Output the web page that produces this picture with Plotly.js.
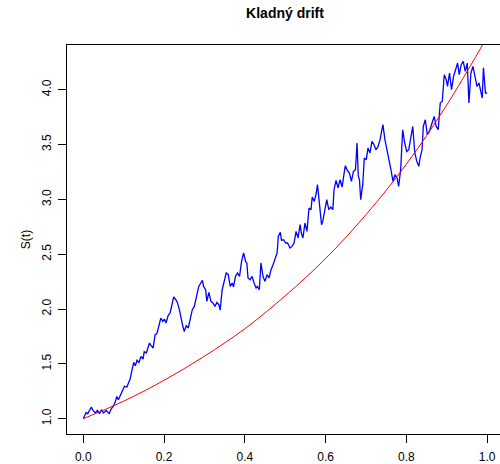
<!DOCTYPE html>
<html>
<head>
<meta charset="utf-8">
<script src="https://cdn.plot.ly/plotly-3.0.1.min.js"></script>
<style>
  html, body { margin: 0; padding: 0; background: #ffffff; }
  #chart { width: 500px; height: 464px; }
</style>
</head>
<body>
<div id="chart"></div>
<script>
// Simulated price path S(t) of a geometric Brownian motion with positive drift
const pathT = [
  0.000, 0.007, 0.011, 0.020, 0.024, 0.030, 0.035, 0.040, 0.045, 0.050,
  0.057, 0.064, 0.069, 0.074, 0.079, 0.083, 0.087, 0.093, 0.098, 0.102,
  0.108, 0.113, 0.116, 0.121, 0.125, 0.129, 0.133, 0.138, 0.143, 0.148,
  0.151, 0.156, 0.161, 0.164, 0.168, 0.173, 0.178, 0.182, 0.187, 0.192,
  0.197, 0.201, 0.205, 0.210, 0.215, 0.219, 0.224, 0.229, 0.233, 0.238,
  0.243, 0.247, 0.250, 0.255, 0.260, 0.265, 0.270, 0.275, 0.281, 0.286,
  0.291, 0.295, 0.298, 0.303, 0.306, 0.311, 0.316, 0.321, 0.326, 0.331,
  0.336, 0.339, 0.344, 0.349, 0.354, 0.359, 0.364, 0.369, 0.372, 0.377,
  0.382, 0.387, 0.392, 0.397, 0.402, 0.405, 0.408, 0.413, 0.418, 0.423,
  0.428, 0.431, 0.436, 0.440, 0.445, 0.450, 0.455, 0.460, 0.465, 0.470,
  0.475, 0.480, 0.483, 0.488, 0.491, 0.496, 0.501, 0.506, 0.512, 0.517,
  0.522, 0.527, 0.532, 0.537, 0.540, 0.544, 0.549, 0.554, 0.559, 0.564,
  0.567, 0.572, 0.577, 0.580, 0.583, 0.587, 0.590, 0.593, 0.598, 0.603,
  0.608, 0.613, 0.618, 0.621, 0.626, 0.631, 0.636, 0.641, 0.646, 0.649,
  0.654, 0.659, 0.664, 0.669, 0.674, 0.678, 0.681, 0.684, 0.687, 0.692,
  0.696, 0.701, 0.705, 0.710, 0.715, 0.720, 0.725, 0.730, 0.735, 0.742,
  0.747, 0.752, 0.757, 0.762, 0.767, 0.772, 0.777, 0.781, 0.786, 0.791,
  0.796, 0.801, 0.806, 0.811, 0.816, 0.821, 0.826, 0.831, 0.834, 0.839,
  0.842, 0.847, 0.852, 0.857, 0.864, 0.869, 0.874, 0.879, 0.884, 0.889,
  0.894, 0.899, 0.902, 0.907, 0.912, 0.917, 0.922, 0.927, 0.931, 0.936,
  0.941, 0.946, 0.951, 0.955, 0.960, 0.965, 0.970, 0.975, 0.980, 0.984,
  0.988, 0.991, 0.996, 1.000
];
const pathS = [
  1.000, 1.057, 1.046, 1.107, 1.076, 1.052, 1.076, 1.046, 1.082, 1.052,
  1.076, 1.046, 1.088, 1.112, 1.149, 1.203, 1.173, 1.228, 1.264, 1.295,
  1.289, 1.331, 1.362, 1.447, 1.513, 1.483, 1.532, 1.513, 1.568, 1.544,
  1.611, 1.599, 1.666, 1.690, 1.666, 1.645, 1.766, 1.775, 1.842, 1.918,
  1.887, 1.909, 1.873, 1.939, 1.964, 2.040, 2.110, 2.085, 2.060, 1.994,
  1.887, 1.836, 1.796, 1.848, 1.827, 1.903, 1.994, 2.024, 2.115, 2.206,
  2.237, 2.261, 2.206, 2.176, 2.070, 2.152, 2.070, 2.055, 2.024, 2.060,
  2.039, 1.990, 2.176, 2.267, 2.329, 2.313, 2.206, 2.237, 2.201, 2.298,
  2.329, 2.298, 2.434, 2.511, 2.434, 2.420, 2.283, 2.267, 2.298, 2.237,
  2.192, 2.206, 2.176, 2.420, 2.298, 2.252, 2.313, 2.283, 2.359, 2.404,
  2.450, 2.511, 2.662, 2.699, 2.626, 2.632, 2.602, 2.602, 2.557, 2.571,
  2.602, 2.708, 2.648, 2.769, 2.693, 2.648, 2.784, 2.708, 2.921, 2.906,
  3.022, 2.981, 3.058, 3.134, 3.027, 2.845, 2.769, 2.799, 2.906, 2.997,
  2.906, 2.930, 2.906, 3.088, 3.173, 3.104, 3.179, 3.113, 3.240, 3.307,
  3.264, 3.240, 3.164, 3.255, 3.270, 3.514, 3.216, 3.179, 2.997, 3.134,
  3.377, 3.362, 3.468, 3.423, 3.529, 3.498, 3.453, 3.483, 3.544, 3.681,
  3.544, 3.453, 3.392, 3.270, 3.164, 3.225, 3.195, 3.118, 3.270, 3.635,
  3.514, 3.437, 3.453, 3.544, 3.665, 3.423, 3.346, 3.301, 3.377, 3.453,
  3.665, 3.726, 3.590, 3.620, 3.696, 3.756, 3.665, 3.635, 3.879, 3.893,
  4.137, 4.091, 4.030, 4.152, 4.000, 4.121, 4.182, 4.243, 4.137, 4.228,
  4.258, 4.167, 4.243, 3.879, 4.152, 4.212, 4.121, 4.030, 4.061, 4.000,
  3.924, 4.200, 3.970, 3.970
];

// Expected value of S(t), read at steps of 0.1
const trendT = [0.0, 0.1, 0.2, 0.3, 0.4, 0.5, 0.6, 0.7, 0.8, 0.9, 1.0];
const trendS = [1.00, 1.16, 1.35, 1.57, 1.82, 2.12, 2.46, 2.86, 3.32, 3.86, 4.48];

const tickFont = { family: 'Liberation Sans, Arial, sans-serif', size: 12, color: '#000000' };

const traces = [
  {
    x: pathT, y: pathS, type: 'scatter', mode: 'lines',
    line: { color: '#0000ff', width: 1.3 },
    hoverinfo: 'skip', showlegend: false
  },
  {
    x: trendT, y: trendS, type: 'scatter', mode: 'lines',
    line: { color: '#ff0000', width: 1, shape: 'spline', smoothing: 1 },
    hoverinfo: 'skip', showlegend: false
  }
];

const layout = {
  width: 500, height: 464,
  margin: { l: 67, r: 0, t: 45, b: 30, pad: 0 },
  paper_bgcolor: '#ffffff', plot_bgcolor: '#ffffff',
  showlegend: false,
  title: {
    text: '<b>Kladný drift</b>',
    font: { family: 'Liberation Sans, Arial, sans-serif', size: 14, color: '#000000' },
    xref: 'container', x: 0.57, xanchor: 'center',
    yref: 'container', y: 0.972, yanchor: 'middle'
  },
  xaxis: {
    range: [-0.0403, 1.032],
    tickvals: [0, 0.2, 0.4, 0.6, 0.8, 1.0],
    ticktext: ['0.0', '0.2', '0.4', '0.6', '0.8', '1.0'],
    ticks: 'outside', ticklen: 8, tickwidth: 1, tickcolor: '#000000',
    showline: true, linecolor: '#000000', linewidth: 1, mirror: true,
    showgrid: false, zeroline: false,
    tickfont: tickFont, ticklabelstandoff: 4
  },
  yaxis: {
    range: [0.8605, 4.4076],
    tickvals: [1.0, 1.5, 2.0, 2.5, 3.0, 3.5, 4.0],
    ticktext: ['1.0', '1.5', '2.0', '2.5', '3.0', '3.5', '4.0'],
    ticks: 'outside', ticklen: 8, tickwidth: 1, tickcolor: '#000000',
    tickangle: -90,
    showline: true, linecolor: '#000000', linewidth: 1,
    showgrid: false, zeroline: false,
    tickfont: tickFont, ticklabelstandoff: 2,
    title: {
      text: 'S(t)',
      font: { family: 'Liberation Sans, Arial, sans-serif', size: 12, color: '#000000' },
      standoff: 7
    }
  }
};

Plotly.newPlot('chart', traces, layout, { staticPlot: true, displayModeBar: false });
</script>
</body>
</html>
